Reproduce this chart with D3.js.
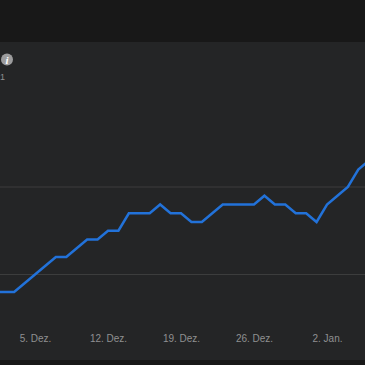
<!DOCTYPE html>
<html>
<head>
<meta charset="utf-8">
<script src="https://cdn.jsdelivr.net/npm/d3@7"></script>
<style>
    html, body { margin: 0; padding: 0; background: #181818; overflow: hidden; }
    svg { display: block; }
</style>
</head>
<body>
<div id="chart"></div>
<script>
const days = ["2020-12-01", "2020-12-02", "2020-12-03", "2020-12-04", "2020-12-05", "2020-12-06", "2020-12-07", "2020-12-08",
    "2020-12-09", "2020-12-10", "2020-12-11", "2020-12-12", "2020-12-13", "2020-12-14", "2020-12-15", "2020-12-16",
    "2020-12-17", "2020-12-18", "2020-12-19", "2020-12-20", "2020-12-21", "2020-12-22", "2020-12-23", "2020-12-24",
    "2020-12-25", "2020-12-26", "2020-12-27", "2020-12-28", "2020-12-29", "2020-12-30", "2020-12-31", "2021-01-01",
    "2021-01-02", "2021-01-03", "2021-01-04", "2021-01-05", "2021-01-06"];
const values = [8, 8, 8, 9, 10, 11, 12, 12,
    13, 14, 14, 15, 15, 17, 17, 17,
    18, 17, 17, 16, 16, 17, 18, 18,
    18, 18, 19, 18, 18, 17, 17, 16,
    18, 19, 20, 22, 23];
const tickDays = ["2020-12-05", "2020-12-12", "2020-12-19", "2020-12-26", "2021-01-02"];
const tickLabels = ["5. Dez.", "12. Dez.", "19. Dez.", "26. Dez.", "2. Jan."];
const gridValues = [10, 20];

const parseDay = d3.utcParse("%Y-%m-%d");

const width = 365, height = 365;

const svg = d3.select("#chart")
    .append("svg")
    .attr("width", width)
    .attr("height", height);

// panel behind the plot
svg.append("rect")
    .attr("x", 0)
    .attr("y", 42)
    .attr("width", width)
    .attr("height", 318)
    .attr("fill", "#242526");

let x = d3.scaleUtc()
    .domain([parseDay("2020-12-05"), parseDay("2021-01-02")])
    .range([35, 327]);

let y = d3.scaleLinear()
    .domain([10, 20])
    .range([274.5, 187]);

svg.append("g")
    .selectAll("line")
    .data(gridValues)
    .join("line")
    .attr("x1", 0)
    .attr("x2", width)
    .attr("y1", d => y(d))
    .attr("y2", d => y(d))
    .attr("stroke", "#3c3d3d")
    .attr("stroke-width", 1);

let xAxis = svg.append("g")
    .attr("transform", "translate(0,327)")
    .call(d3.axisBottom(x)
        .tickValues(tickDays.map(parseDay))
        .tickSize(0)
        .tickPadding(8)
        .tickFormat((d, i) => tickLabels[i]));
xAxis.select(".domain").remove();
xAxis.selectAll("text")
    .attr("fill", "#8f9091")
    .style("font-family", "'Liberation Sans', Arial, sans-serif")
    .style("font-size", "10px");

svg.append("path")
    .datum(values)
    .attr("fill", "none")
    .attr("stroke", "#2272d9")
    .attr("stroke-width", 2.5)
    .attr("stroke-linejoin", "miter")
    .attr("d", d3.line()
        .x((d, i) => x(parseDay(days[i])))
        .y(d => y(d)));

// info icon next to the cropped title
svg.append("circle")
    .attr("cx", 7)
    .attr("cy", 59.5)
    .attr("r", 6)
    .attr("fill", "#9c9c9d");
svg.append("text")
    .attr("x", 7)
    .attr("y", 63.5)
    .attr("text-anchor", "middle")
    .attr("fill", "#ffffff")
    .style("font-family", "'Liberation Serif', serif")
    .style("font-style", "italic")
    .style("font-weight", "bold")
    .style("font-size", "11px")
    .text("i");

// what is left of the cropped subtitle
svg.append("text")
    .attr("x", 0)
    .attr("y", 80)
    .attr("fill", "#8f9091")
    .style("font-family", "'Liberation Sans', Arial, sans-serif")
    .style("font-size", "9px")
    .text("1");
</script>
</body>
</html>
